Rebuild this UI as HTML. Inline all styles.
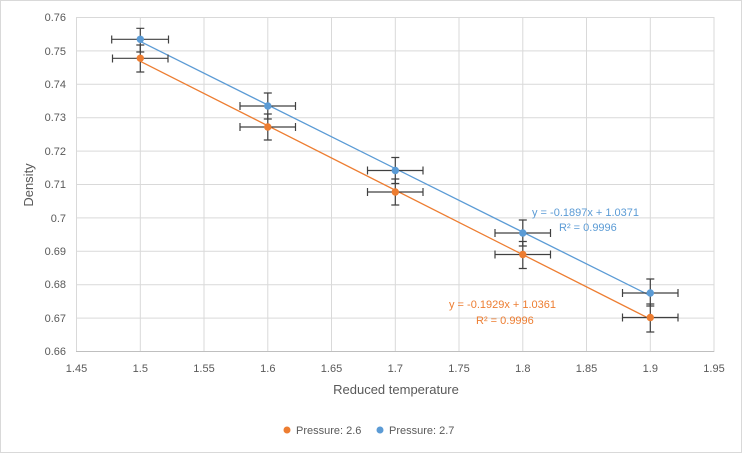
<!DOCTYPE html>
<html><head><style>body{margin:0;background:#fff}svg{display:block;font-family:"Liberation Sans",sans-serif}</style></head><body>
<svg width="742" height="453" viewBox="0 0 742 453">
<rect x="0.5" y="0.5" width="741" height="452" fill="#fff" stroke="#d9d9d9"/>
<g stroke="#d9d9d9" stroke-width="1">
<line x1="76" y1="17.5" x2="714" y2="17.5"/><line x1="76" y1="50.9" x2="714" y2="50.9"/><line x1="76" y1="84.3" x2="714" y2="84.3"/><line x1="76" y1="117.7" x2="714" y2="117.7"/><line x1="76" y1="151.1" x2="714" y2="151.1"/><line x1="76" y1="184.5" x2="714" y2="184.5"/><line x1="76" y1="217.9" x2="714" y2="217.9"/><line x1="76" y1="251.3" x2="714" y2="251.3"/><line x1="76" y1="284.7" x2="714" y2="284.7"/><line x1="76" y1="318.1" x2="714" y2="318.1"/>
<line x1="76.5" y1="17" x2="76.5" y2="352"/><line x1="140.3" y1="17" x2="140.3" y2="352"/><line x1="204" y1="17" x2="204" y2="352"/><line x1="267.8" y1="17" x2="267.8" y2="352"/><line x1="331.5" y1="17" x2="331.5" y2="352"/><line x1="395.3" y1="17" x2="395.3" y2="352"/><line x1="459" y1="17" x2="459" y2="352"/><line x1="522.8" y1="17" x2="522.8" y2="352"/><line x1="586.5" y1="17" x2="586.5" y2="352"/><line x1="650.3" y1="17" x2="650.3" y2="352"/><line x1="714" y1="17" x2="714" y2="352"/>
</g>
<line x1="76" y1="351.5" x2="714" y2="351.5" stroke="#bfbfbf"/>
<g font-size="11" fill="#595959" text-anchor="end">
<text x="66" y="21">0.76</text><text x="66" y="55">0.75</text><text x="66" y="88">0.74</text><text x="66" y="121">0.73</text><text x="66" y="155">0.72</text><text x="66" y="188">0.71</text><text x="66" y="222">0.7</text><text x="66" y="255">0.69</text><text x="66" y="288">0.68</text><text x="66" y="322">0.67</text><text x="66" y="355">0.66</text>
</g>
<g font-size="11" fill="#595959" text-anchor="middle">
<text x="76.5" y="372">1.45</text><text x="140.3" y="372">1.5</text><text x="204" y="372">1.55</text><text x="267.8" y="372">1.6</text><text x="331.5" y="372">1.65</text><text x="395.3" y="372">1.7</text><text x="459" y="372">1.75</text><text x="522.8" y="372">1.8</text><text x="586.5" y="372">1.85</text><text x="650.3" y="372">1.9</text><text x="714" y="372">1.95</text>
</g>
<text x="396" y="394" font-size="13" fill="#595959" text-anchor="middle">Reduced temperature</text>
<text transform="translate(33,185) rotate(-90)" font-size="13" fill="#595959" text-anchor="middle">Density</text>
<line x1="140.3" y1="61.3" x2="650.3" y2="319.1" stroke="#ed7d31" stroke-width="1.3"/>
<line x1="140.3" y1="41.4" x2="650.3" y2="295.7" stroke="#5b9bd5" stroke-width="1.3"/>
<g stroke="#404040" stroke-width="1.2" fill="none" id="eb">
<path d="M112.5 58.3H168M112.5 54.5v8M168 54.5v8M140.3 58.3V72M136.3 72h8M140.3 58.3V45M136.3 45h8"/>
<path d="M111.7 39.3H168.5M111.7 35.5v8M168.5 35.5v8M140.3 39.3V28.3M136.3 28.3h8M140.3 39.3V52M136.3 52h8"/>
<path d="M240 127H295.5M240 123v8M295.5 123v8M267.8 127V114M263.8 114h8M267.8 127V140M263.8 140h8"/>
<path d="M240 106H295.5M240 102v8M295.5 102v8M267.8 106V93M263.8 93h8M267.8 106V119M263.8 119h8"/>
<path d="M367.5 192H423M367.5 188v8M423 188v8M395.3 192V179M391.3 179h8M395.3 192V205M391.3 205h8"/>
<path d="M367.5 170.5H423M367.5 166.5v8M423 166.5v8M395.3 170.5V157.5M391.3 157.5h8M395.3 170.5V183.5M391.3 183.5h8"/>
<path d="M495 254.5H550.5M495 250.5v8M550.5 250.5v8M522.8 254.5V241.5M518.8 241.5h8M522.8 254.5V268.5M518.8 268.5h8"/>
<path d="M495 233H550.5M495 229v8M550.5 229v8M522.8 233V220M518.8 220h8M522.8 233V246M518.8 246h8"/>
<path d="M622.5 317.5H678M622.5 313.5v8M678 313.5v8M650.3 317.5V304M646.3 304h8M650.3 317.5V332M646.3 332h8"/>
<path d="M622.5 293H678M622.5 289v8M678 289v8M650.3 293V279M646.3 279h8M650.3 293V306M646.3 306h8"/>
</g>
<g fill="#ed7d31"><circle cx="140.3" cy="58.3" r="3.7"/><circle cx="267.8" cy="127" r="3.7"/><circle cx="395.3" cy="192" r="3.7"/><circle cx="522.8" cy="254.5" r="3.7"/><circle cx="650.3" cy="317.5" r="3.7"/></g>
<g fill="#5b9bd5"><circle cx="140.3" cy="39.3" r="3.7"/><circle cx="267.8" cy="106" r="3.7"/><circle cx="395.3" cy="170.5" r="3.7"/><circle cx="522.8" cy="233" r="3.7"/><circle cx="650.3" cy="293" r="3.7"/></g>
<g font-size="11" fill="#5b9bd5"><text x="532" y="216">y = -0.1897x + 1.0371</text><text x="559" y="231">R² = 0.9996</text></g>
<g font-size="11" fill="#ed7d31"><text x="449" y="308">y = -0.1929x + 1.0361</text><text x="476" y="324">R² = 0.9996</text></g>
<circle cx="287" cy="430" r="3.5" fill="#ed7d31"/><text x="296" y="434" font-size="11" fill="#595959">Pressure: 2.6</text>
<circle cx="380" cy="430" r="3.5" fill="#5b9bd5"/><text x="389" y="434" font-size="11" fill="#595959">Pressure: 2.7</text>
</svg>
</body></html>
